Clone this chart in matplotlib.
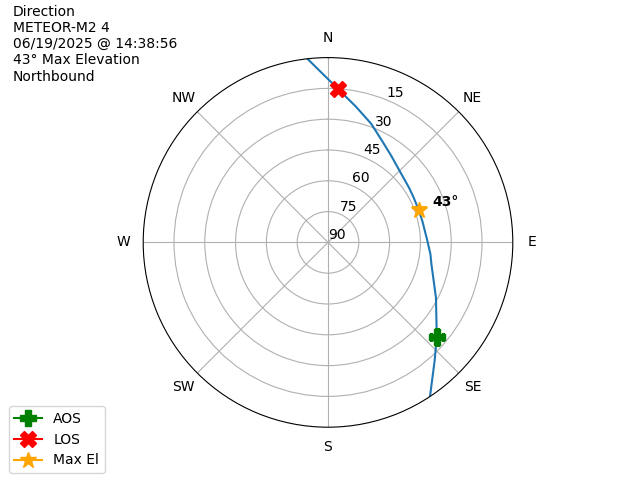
"""
Polar sky plot of a satellite pass (azimuth / elevation).
"""

import numpy as np
import matplotlib
matplotlib.use("Agg")
import matplotlib.pyplot as plt

satellite = "METEOR-M2 4"
pass_time = "06/19/2025 @ 14:38:56"
direction = "Northbound"

# pass track, in time order (degrees)
track_az = [146.5, 138.0, 131.0, 117.0, 102.0, 96.5, 88.0, 77.2, 70.5,
            62.2, 56.1, 45.0, 36.7, 28.1, 20.0, 11.5, 3.65, -6.4]
track_el = [0.0, 12.4, 19.8, 31.0, 38.5, 39.8, 41.8, 42.9, 43.1,
            42.9, 42.4, 40.7, 38.0, 34.0, 28.5, 22.4, 15.0, 0.0]

aos_az, aos_el = 131.0, 19.8
los_az, los_el = 3.65, 15.0
max_az, max_el = 70.5, 43.1

compass = ['N', 'NE', 'E', 'SE', 'S', 'SW', 'W', 'NW']
compass_deg = [0, 45, 90, 135, 180, 225, 270, 315]
el_ticks = [15, 30, 45, 60, 75, 90]


def plot_pass():
    fig = plt.figure(figsize=(6.4, 4.8), dpi=100)
    ax = fig.add_subplot(111, projection='polar')
    ax.set_theta_zero_location('N')
    ax.set_theta_direction(-1)

    #Elevation runs from 90 at the centre to 0 at the rim
    ax.plot(np.radians(track_az), track_el)
    ax.plot(np.radians(aos_az), aos_el, marker='P', color='green', markersize=12, label='AOS')
    ax.plot(np.radians(los_az), los_el, marker='X', color='red', markersize=12, label='LOS')
    ax.plot(np.radians(max_az), max_el, marker='*', color='orange', markersize=12, label='Max El')
    ax.annotate(f"{round(max_el)}°", xy=(np.radians(max_az), max_el),
                xytext=(10, 3), textcoords='offset points',
                fontweight='bold', va='baseline', ha='left')

    ax.set_rlim(90, 0)
    ax.set_yticks(el_ticks)
    ax.set_yticklabels([str(t) for t in el_ticks])
    ax.set_xticks(np.radians(compass_deg))
    ax.set_xticklabels(compass)

    fig.text(0.02, 0.99,
             f"Direction\n{satellite}\n{pass_time}\n{round(max_el)}° Max Elevation\n{direction}",
             ha='left', va='top', fontsize=10)
    fig.legend(loc='lower left', bbox_to_anchor=(0.003, 0))
    fig.savefig('out.png')


if __name__ == "__main__":
    plot_pass()
